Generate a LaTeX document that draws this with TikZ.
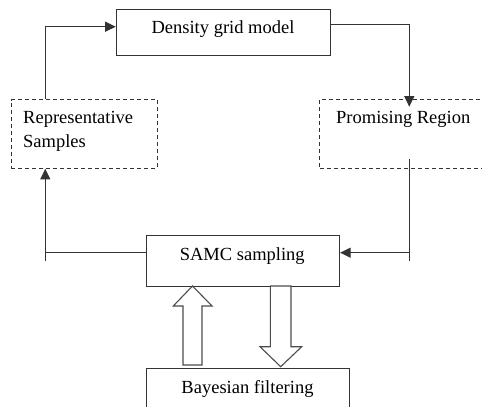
\documentclass[tikz,border=0pt]{standalone}
\usepackage{fontspec}
\setmainfont{Liberation Serif}
\usetikzlibrary{arrows.meta}
\begin{document}
\begin{tikzpicture}[x=1pt,y=-1pt,
  box/.style={draw=black!80,line width=1.1pt,rectangle,inner sep=0pt,anchor=north west},
  dbox/.style={box,dash pattern=on 4pt off 3pt},
  txt/.style={inner sep=0pt,font=\fontsize{18.5}{22}\selectfont},
  conn/.style={draw=black!80,line width=1.1pt},
  arr/.style={conn,-{Triangle[length=10.5pt,width=10pt]}},
  hollow/.style={draw=black!70,line width=1.1pt,fill=white,line join=miter}]
\useasboundingbox (0,0) rectangle (482,407);
\clip (0,0) rectangle (482,407);
% boxes
\node[box,minimum width=214.6pt,minimum height=46.3pt] (dens) at (115.7,8.7) {};
\node[dbox,minimum width=146pt,minimum height=68.4pt] (rep) at (10.7,99.3) {};
\node[dbox,minimum width=200pt,minimum height=68.4pt] (prom) at (319.3,99.3) {};
\node[box,minimum width=193.3pt,minimum height=50.7pt] (samc) at (145.7,235) {};
\node[box,minimum width=203.6pt,minimum height=60pt] (bayes) at (145.7,367.7) {};
% texts
\node[txt,anchor=base] (denst) at (223,33.3) {Density grid model};
\node[txt,anchor=base west] (rept1) at (23,123.3) {Representative};
\node[txt,anchor=base west] (rept2) at (23,147.7) {Samples};
\node[txt,anchor=base west] (promt) at (336,123.3) {Promising Region};
\node[txt,anchor=base] (samct) at (242.3,260) {SAMC sampling};
\node[txt,anchor=base] (bayest) at (247.5,393.3) {Bayesian filtering};
% connectors
\coordinate (lx) at (45.3,26.7);
\coordinate (rx) at (409.3,24.7);
\coordinate (rtip) at (409.3,106.7);
\coordinate (rtop) at (409.3,159.3);
\coordinate (rbot) at (409.3,261);
\coordinate (lbot) at (45.3,261);
\coordinate (hy) at (0,252.7);
\draw[arr] (rep.north -| lx) |- (dens.west |- lx);
\draw[arr] (dens.east |- rx) -| (rtip);
\draw[conn] (rtop) -- (rbot);
\draw[arr] (rtop |- hy) -- (samc.east |- hy);
\draw[conn] (samc.west |- hy) -- (lbot |- hy);
\draw[arr] (lbot) -- (lbot |- rep.south);
% hollow arrows
\draw[hollow] (183,365) -- (202,365) -- (202,306) -- (212,306) -- (192.5,286) -- (173.3,306) -- (183,306) -- cycle;
\draw[hollow] (270.3,286) -- (291,286) -- (291,346.7) -- (301.7,346.7) -- (280.7,366.7) -- (260,346.7) -- (270.3,346.7) -- cycle;
\end{tikzpicture}
\end{document}
